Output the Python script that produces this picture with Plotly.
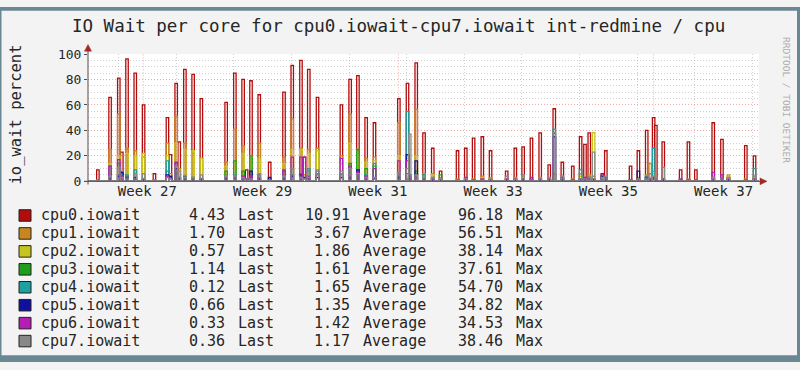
import plotly.graph_objects as go

# ---------------- data ----------------
cpu_names = ["cpu0.iowait", "cpu1.iowait", "cpu2.iowait", "cpu3.iowait",
             "cpu4.iowait", "cpu5.iowait", "cpu6.iowait", "cpu7.iowait"]
cpu_colors = ["#b40c0c", "#c8861e", "#c8c41e", "#1e9e1e",
              "#1ea0a0", "#10109e", "#b41eb4", "#888888"]
last_vals = ["4.43", "1.70", "0.57", "1.14", "0.12", "0.66", "0.33", "0.36"]
avg_vals = ["10.91", "3.67", "1.86", "1.61", "1.65", "1.35", "1.42", "1.17"]
max_vals = ["96.18", "56.51", "38.14", "37.61", "54.70", "34.82", "34.53", "38.46"]

# spike times (days since start of Week 27)
spike_day = [-2.51, -1.03, 0.03, 0.40, 1.03, 2.03, 3.04, 4.36, 5.94, 6.31,
             7.00, 7.37, 8.06, 9.06, 10.06, 13.07, 14.13, 15.13, 15.56, 16.09,
             17.09, 18.36, 20.10, 21.10, 22.16, 22.58, 23.11, 24.17, 27.07, 28.13,
             29.08, 30.08, 31.09, 34.05, 35.10, 35.37, 36.16, 37.11, 38.17, 39.12,
             41.18, 42.18, 43.13, 44.19, 45.19, 47.15, 48.20, 49.15, 50.16, 51.22,
             52.32, 52.93, 53.91, 55.18, 56.13, 56.66, 57.18, 57.71, 58.77, 59.19,
             62.20, 63.15, 64.16, 64.58, 65.00, 65.27, 66.17, 68.28, 69.23, 70.13,
             72.24, 73.30, 74.09, 76.20, 77.26]
cpu0 = [9, 66, 81, 23, 96.18, 85, 60, 6, 50, 21, 77, 31, 88, 84, 65, 62, 85, 80, 9, 79,
        68, 15, 70, 91, 95, 19, 88, 66, 60, 80, 83, 50, 46, 65, 77, 4, 93, 38, 26, 8,
        24, 26, 34, 35, 24, 8, 26, 27, 34, 38, 13, 57, 15, 12, 35, 29, 38, 2, 6, 24,
        12, 24, 40, 2, 50, 44, 31, 9, 31, 9, 46, 33, 3, 28, 20]
cpu1 = [1, 25, 53, 8, 26, 24, 19, 1, 30, 6, 51, 10, 30, 22, 18, 15, 41, 28, 2, 18,
        30, 3, 19, 49, 26, 5, 25, 26, 20, 53, 25, 18, 19, 46, 20, 2, 56.51, 6, 6, 3,
        2, 3, 2, 4, 3, 2, 3, 4, 2, 3, 2, 6, 3, 2, 6, 3, 5, 4, 2, 2,
        1, 3, 5, 14, 8, 3, 2, 1, 2, 1, 3, 3, 5, 2, 4]
cpu2 = [0, 14, 20, 4, 22, 20, 22, 1, 20, 3, 30, 4, 25, 24, 18, 12, 15, 22, 1, 20,
        18, 2, 14, 25, 25, 3, 22, 24, 14, 30, 20, 15, 16, 20, 18, 2, 20, 4, 5, 2,
        1, 2, 1, 3, 2, 1, 2, 3, 1, 2, 1, 5, 2, 1, 4, 2, 3, 38.14, 1, 1,
        1, 2, 4, 3, 6, 2, 1, 1, 1, 1, 2, 2, 4, 1, 3]
cpu3 = [0, 3, 5, 2, 4, 6, 2, 0, 8, 2, 6, 3, 4, 3, 2, 8, 16, 8, 1, 20,
        3, 1, 8, 10, 6, 2, 8, 6, 5, 14, 25, 10, 12, 4, 6, 2, 8, 3, 3, 5,
        1, 1, 1, 1, 1, 1, 1, 1, 1, 1, 1, 37.61, 1, 1, 2, 1, 2, 1, 1, 1,
        1, 1, 3, 1, 2, 1, 1, 1, 1, 1, 1, 1, 1, 1, 2]
cpu4 = [0, 12, 14, 6, 5, 9, 1, 0, 16, 3, 14, 3, 3, 2, 2, 4, 5, 3, 1, 4,
        2, 1, 4, 5, 4, 2, 10, 8, 6, 10, 8, 5, 14, 6, 54.70, 3, 6, 5, 2, 1,
        1, 1, 1, 1, 1, 1, 1, 2, 1, 1, 1, 41, 2, 1, 9, 1, 2, 1, 1, 2,
        1, 1, 4, 1, 26, 1, 1, 1, 1, 1, 2, 1, 1, 1, 10]
cpu5 = [0, 2, 4, 7, 2, 3, 1, 0, 5, 4, 10, 2, 2, 1, 1, 2, 3, 3, 2, 8,
        2, 3, 2, 4, 5, 3, 2, 3, 3, 3, 9, 2, 2, 3, 21, 2, 16, 2, 1, 1,
        0, 1, 1, 1, 1, 1, 1, 1, 1, 1, 1, 34.82, 1, 1, 1, 2, 3, 1, 4, 1,
        1, 8, 2, 1, 2, 1, 1, 1, 1, 1, 1, 2, 1, 1, 1]
cpu6 = [1, 12, 17, 4, 3, 2, 1, 1, 4, 2, 15, 2, 3, 2, 2, 3, 3, 4, 1, 4,
        5, 1, 9, 19, 19, 19, 4, 5, 18, 12, 7, 4, 10, 16, 16, 5, 3, 2, 2, 1,
        1, 3, 1, 2, 1, 2, 2, 2, 3, 2, 2, 34.53, 3, 1, 2, 3, 2, 1, 5, 3,
        1, 1, 3, 2, 3, 2, 2, 2, 1, 1, 7, 5, 2, 1, 2]
cpu7 = [1, 4, 11, 3, 2, 6, 6, 1, 3, 2, 12, 8, 3, 3, 5, 4, 4, 3, 2, 2,
        6, 1, 4, 10, 3, 2, 8, 9, 8, 10, 6, 3, 3, 7, 10, 37, 5, 3, 3, 2,
        1, 2, 1, 1, 2, 4, 2, 5, 1, 2, 3, 38.46, 4, 1, 2, 2, 3, 23, 3, 4,
        1, 2, 2, 6, 4, 2, 11, 1, 1, 1, 3, 2, 3, 1, 4]
series = [cpu0, cpu1, cpu2, cpu3, cpu4, cpu5, cpu6, cpu7]

week_label_pos = [3.5, 17.5, 31.5, 45.5, 59.5, 73.5]
week_labels = ["Week 27", "Week 29", "Week 31", "Week 33", "Week 35", "Week 37"]
month_start_days = [3.0, 34.0, 65.0]

# ---------------- style / geometry ----------------
W, H = 800, 370
X0, X1 = -3.71, 77.8           # axis range in days
PX_L, PX_R = 88, 759           # plot area in px
PY_T, PY_B = 49, 181.7
SPIKE_W = 0.3
BASE = 0.5
MONO = "DejaVu Sans Mono"
TXT = "#262626"
MAJOR_GRID = "rgba(235,110,110,0.6)"
MINOR_GRID = "rgba(150,150,150,0.45)"
DOTS = "1px,2px"


def fx(px):
    return px / W


def fy(py):
    return 1 - py / H


fig = go.Figure()

for name, color, vals in zip(cpu_names, cpu_colors, series):
    xs, ys = [X0], [BASE]
    for d, v in zip(spike_day, vals):
        xs += [d - SPIKE_W / 2, d + SPIKE_W / 2]
        ys += [v, BASE]
    xs.append(X1)
    ys.append(BASE)
    fig.add_trace(go.Scatter(x=xs, y=ys, mode="lines", name=name,
                             line=dict(color=color, width=1.3, shape="hv"),
                             hoverinfo="skip", showlegend=False))

shapes = []
# month (major) vertical grid lines
for d in month_start_days:
    shapes.append(dict(type="line", xref="x", yref="y", x0=d, x1=d, y0=0, y1=100,
                       line=dict(color=MAJOR_GRID, width=1, dash=DOTS),
                       layer="below"))
# axis lines
shapes.append(dict(type="line", xref="paper", yref="paper",
                   x0=fx(84), x1=fx(762), y0=fy(PY_B), y1=fy(PY_B),
                   line=dict(color="#5a4a4a", width=1)))
shapes.append(dict(type="line", xref="paper", yref="paper",
                   x0=fx(PX_L), x1=fx(PX_L), y0=fy(185), y1=fy(44),
                   line=dict(color="#5a4a4a", width=1)))
# arrows
shapes.append(dict(type="path", xref="paper", yref="paper",
                   path=f"M {fx(PX_L-3.5)} {fy(46)} L {fx(PX_L+3.5)} {fy(46)} L {fx(PX_L)} {fy(39)} Z",
                   fillcolor="#a02828", line=dict(color="#a02828", width=0.5)))
shapes.append(dict(type="path", xref="paper", yref="paper",
                   path=f"M {fx(760)} {fy(PY_B-3.5)} L {fx(760)} {fy(PY_B+3.5)} L {fx(767)} {fy(PY_B)} Z",
                   fillcolor="#a02828", line=dict(color="#a02828", width=0.5)))
# frame
frame_col = "#6a8894"
shapes += [
    dict(type="rect", xref="paper", yref="paper", x0=0, x1=1, y0=fy(4), y1=1,
         fillcolor=frame_col, line=dict(width=0)),
    dict(type="rect", xref="paper", yref="paper", x0=0, x1=1, y0=0, y1=fy(363),
         fillcolor=frame_col, line=dict(width=0)),
    dict(type="rect", xref="paper", yref="paper", x0=0, x1=fx(1.5), y0=0, y1=1,
         fillcolor=frame_col, line=dict(width=0)),
    dict(type="rect", xref="paper", yref="paper", x0=fx(797), x1=1, y0=0, y1=1,
         fillcolor=frame_col, line=dict(width=0)),
]

annotations = []
annotations.append(dict(text="IO Wait per core for cpu0.iowait-cpu7.iowait int-redmine / cpu",
                        x=fx(398), y=fy(20), xref="paper", yref="paper", showarrow=False,
                        xanchor="center", yanchor="middle",
                        font=dict(family=MONO, size=17.5, color=TXT)))
annotations.append(dict(text="io_wait percent", x=fx(16), y=fy(112), xref="paper", yref="paper",
                        showarrow=False, textangle=-90, xanchor="center", yanchor="middle",
                        font=dict(family=MONO, size=15.5, color=TXT)))
annotations.append(dict(text="RRDTOOL / TOBI OETIKER", x=fx(787), y=fy(97), xref="paper",
                        yref="paper", showarrow=False, textangle=90, xanchor="center",
                        yanchor="middle", font=dict(family=MONO, size=9.5, color="#aaaaaa")))

# legend rows
for i, (name, color, lv, av, mv) in enumerate(zip(cpu_names, cpu_colors, last_vals, avg_vals, max_vals)):
    yc = 217.3 + 18.7 * i
    shapes.append(dict(type="rect", xref="paper", yref="paper",
                       x0=fx(19), x1=fx(31), y0=fy(yc + 6), y1=fy(yc - 6),
                       fillcolor=color, line=dict(color="#222222", width=1)))
    for txt, xp, anchor in [(name, 39, "left"), (lv, 227, "right"), ("Last", 236, "left"),
                            (av, 352, "right"), ("Average", 361, "left"),
                            (mv, 505, "right"), ("Max", 514, "left")]:
        annotations.append(dict(text=txt, x=fx(xp), y=fy(yc), xref="paper", yref="paper",
                                showarrow=False, xanchor=anchor, yanchor="middle",
                                font=dict(family=MONO, size=15, color=TXT)))

fig.update_layout(
    width=W, height=H, margin=dict(l=0, r=0, t=0, b=0),
    paper_bgcolor="#f3f3f3", plot_bgcolor="#ffffff",
    showlegend=False, shapes=shapes, annotations=annotations,
    xaxis=dict(domain=[fx(PX_L), fx(PX_R)], range=[X0, X1], tickmode="array",
               tickvals=week_label_pos, ticktext=week_labels, showgrid=False,
               zeroline=False, showline=False, ticks="",
               tickfont=dict(family=MONO, size=14, color=TXT),
               minor=dict(tick0=0, dtick=7, showgrid=True, gridcolor=MINOR_GRID,
                          griddash=DOTS, gridwidth=1, ticks="")),
    yaxis=dict(domain=[fy(PY_B), fy(PY_T)], range=[0, 100], tick0=0, dtick=20,
               showgrid=True, gridcolor=MAJOR_GRID, griddash=DOTS,
               zeroline=False, showline=False, ticks="outside", ticklen=3,
               tickcolor="#5a4a4a",
               tickfont=dict(family=MONO, size=13, color=TXT),
               minor=dict(dtick=5, showgrid=True, gridcolor=MINOR_GRID,
                          griddash=DOTS, gridwidth=1)),
)

fig.write_html("out.html")
